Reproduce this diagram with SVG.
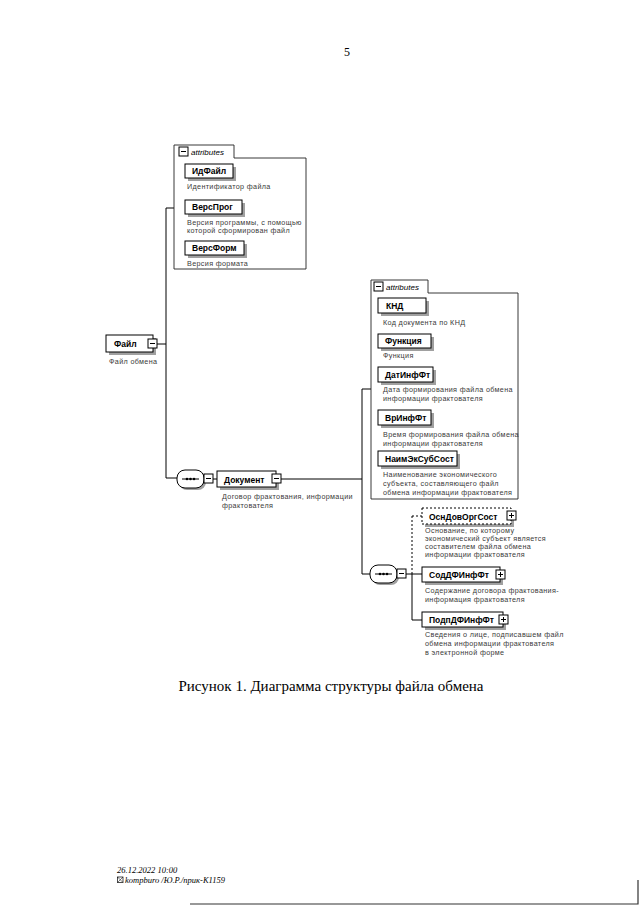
<svg xmlns="http://www.w3.org/2000/svg" width="640" height="905" viewBox="0 0 640 905">
<style>
.bg{fill:#fff}
.box{fill:#fff;stroke:#000;stroke-width:1}
.opt{fill:#fff;stroke:#000;stroke-width:1;stroke-dasharray:2 2}
.sh{fill:#a0a0a0}
.grp{fill:none;stroke:#222;stroke-width:0.9}
.lbl{font-family:"Liberation Sans",Arial,sans-serif;font-size:8.5px;font-weight:bold;fill:#000}
.desc{font-family:"Liberation Sans",Arial,sans-serif;font-size:7.2px;letter-spacing:0.35px;fill:#3a3a3a}
.att{font-family:"Liberation Sans",Arial,sans-serif;font-size:8px;font-style:italic;fill:#000}
.conn{fill:none;stroke:#000;stroke-width:1}
.dconn{fill:none;stroke:#000;stroke-width:1;stroke-dasharray:2 2}
.ico{fill:#fff;stroke:#000;stroke-width:1}
.serif{font-family:"Liberation Serif","Times New Roman",serif;fill:#000}
</style>
<defs>
<g id="minus"><rect class="ico" x="0" y="0" width="9" height="9"/><path d="M2,4.5H7" stroke="#000" stroke-width="1"/></g>
<g id="plus"><rect class="ico" x="0" y="0" width="9" height="9"/><path d="M2,4.5H7M4.5,2V7" stroke="#000" stroke-width="1"/></g>
</defs>
<rect class="bg" x="0" y="0" width="640" height="905"/>

<text class="serif" x="347" y="56" font-size="12" text-anchor="middle">5</text>

<g id="connectors">
<path class="conn" d="M157,344H166M166,208V478M166,208H174M166,478H177"/>
<path class="conn" d="M212,479H217"/>
<path class="conn" d="M281,479H362M362,389V574M362,389H371M362,574H370"/>
<path class="conn" d="M405,574H412M412,574V620M412,574H422M412,620H422"/>
<path class="dconn" d="M412,516V574M412,516H422"/>
</g>

<g id="node-file">
<rect class="sh" x="109" y="338" width="47" height="17"/>
<rect class="box" x="106" y="335" width="47" height="17"/>
<text class="lbl" x="114" y="347">Файл</text>
<use href="#minus" x="148" y="339"/>
<text class="desc" x="109" y="364">Файл обмена</text>
</g>

<g id="attrs-file">
<path class="grp" d="M174,269V145H234V158H306V269Z"/>
<use href="#minus" x="179" y="147"/>
<text class="att" x="191" y="155">attributes</text>
</g>

<g id="node-IdFile">
<rect class="sh" x="188" y="167" width="48" height="14"/>
<rect class="box" x="185" y="164" width="48" height="14"/>
<text class="lbl" x="192" y="174">ИдФайл</text>
<text class="desc" x="187" y="189">Идентификатор файла</text>
</g>

<g id="node-VersProg">
<rect class="sh" x="188" y="203" width="57" height="14"/>
<rect class="box" x="185" y="200" width="57" height="14"/>
<text class="lbl" x="192" y="210">ВерсПрог</text>
<text class="desc" x="187" y="225">Версия программы, с помощью</text>
<text class="desc" x="187" y="233">которой сформирован файл</text>
</g>

<g id="node-VersForm">
<rect class="sh" x="188" y="244" width="59" height="14"/>
<rect class="box" x="185" y="241" width="59" height="14"/>
<text class="lbl" x="192" y="251">ВерсФорм</text>
<text class="desc" x="187" y="266">Версия формата</text>
</g>

<g id="seq-1">
<rect class="sh" x="179" y="472" width="27" height="18" rx="8"/>
<rect class="box" x="177" y="470" width="27" height="18" rx="8"/>
<path d="M182,479H199" stroke="#000" stroke-width="1"/>
<circle cx="187" cy="479" r="1.3"/><circle cx="190.5" cy="479" r="1.3"/><circle cx="194" cy="479" r="1.3"/>
<use href="#minus" x="204" y="474"/>
</g>

<g id="node-Document">
<rect class="sh" x="220" y="474" width="59" height="16"/>
<rect class="box" x="217" y="471" width="59" height="16"/>
<text class="lbl" x="224" y="483">Документ</text>
<use href="#minus" x="272" y="474"/>
<text class="desc" x="222" y="499">Договор фрактования, информации</text>
<text class="desc" x="222" y="508">фрактователя</text>
</g>

<g id="attrs-doc">
<path class="grp" d="M371,499V280H428V293H518V499Z"/>
<use href="#minus" x="374" y="282"/>
<text class="att" x="386" y="290">attributes</text>
</g>

<g id="node-KND">
<rect class="sh" x="381" y="301" width="48" height="15"/>
<rect class="box" x="378" y="298" width="48" height="15"/>
<text class="lbl" x="386" y="309">КНД</text>
<text class="desc" x="383" y="325">Код документа по КНД</text>
</g>

<g id="node-Funkcia">
<rect class="sh" x="381" y="337" width="53" height="14"/>
<rect class="box" x="378" y="334" width="53" height="14"/>
<text class="lbl" x="385" y="344">Функция</text>
<text class="desc" x="383" y="358">Функция</text>
</g>

<g id="node-DatInfFt">
<rect class="sh" x="381" y="370" width="55" height="15"/>
<rect class="box" x="378" y="367" width="55" height="15"/>
<text class="lbl" x="385" y="378">ДатИнфФт</text>
<text class="desc" x="383" y="392">Дата формирования файла обмена</text>
<text class="desc" x="383" y="401">информации фрактователя</text>
</g>

<g id="node-VrInfFt">
<rect class="sh" x="381" y="413" width="53" height="15"/>
<rect class="box" x="378" y="410" width="53" height="15"/>
<text class="lbl" x="385" y="421">ВрИнфФт</text>
<text class="desc" x="383" y="437">Время формирования файла обмена</text>
<text class="desc" x="383" y="446">информации фрактователя</text>
</g>

<g id="node-NaimEkSubSost">
<rect class="sh" x="381" y="454" width="79" height="15"/>
<rect class="box" x="378" y="451" width="79" height="15"/>
<text class="lbl" x="385" y="462">НаимЭкСубСост</text>
<text class="desc" x="383" y="477">Наименование экономического</text>
<text class="desc" x="383" y="486">субъекта, составляющего файл</text>
<text class="desc" x="383" y="495">обмена информации фрактователя</text>
</g>

<g id="seq-2">
<rect class="sh" x="372" y="567" width="27" height="18" rx="8"/>
<rect class="box" x="370" y="565" width="27" height="18" rx="8"/>
<path d="M375,574H392" stroke="#000" stroke-width="1"/>
<circle cx="380" cy="574" r="1.3"/><circle cx="383.5" cy="574" r="1.3"/><circle cx="387" cy="574" r="1.3"/>
<use href="#minus" x="397" y="569"/>
</g>

<g id="node-OsnDovOrgSost">
<rect class="sh" x="425" y="511" width="89" height="16"/>
<rect class="opt" x="422" y="508" width="89" height="16"/>
<text class="lbl" x="429" y="520">ОснДовОргСост</text>
<use href="#plus" x="507" y="511"/>
<text class="desc" x="425" y="533">Основание, по которому</text>
<text class="desc" x="425" y="541">экономический субъект является</text>
<text class="desc" x="425" y="549">составителем файла обмена</text>
<text class="desc" x="425" y="557">информации фрактователя</text>
</g>

<g id="node-SodDFInfFt">
<rect class="sh" x="425" y="570" width="78" height="15"/>
<rect class="box" x="422" y="567" width="78" height="15"/>
<text class="lbl" x="429" y="578">СодДФИнфФт</text>
<use href="#plus" x="496" y="570"/>
<text class="desc" x="425" y="593">Содержание договора фрактования-</text>
<text class="desc" x="425" y="602">информация фрактователя</text>
</g>

<g id="node-PodpDFInfFt">
<rect class="sh" x="425" y="615" width="81" height="15"/>
<rect class="box" x="422" y="612" width="81" height="15"/>
<text class="lbl" x="429" y="623">ПодпДФИнфФт</text>
<use href="#plus" x="499" y="615"/>
<text class="desc" x="425" y="637">Сведения о лице, подписавшем файл</text>
<text class="desc" x="425" y="646">обмена информации фрактователя</text>
<text class="desc" x="425" y="655">в электронной форме</text>
</g>

<text class="serif" x="331" y="691" font-size="15" text-anchor="middle">Рисунок 1. Диаграмма структуры файла обмена</text>

<text class="serif" x="117" y="873" font-size="8.5" font-style="italic">26.12.2022 10:00</text>
<rect x="117.5" y="877" width="5.5" height="5.5" fill="none" stroke="#000" stroke-width="0.7"/>
<path d="M117.5,877L123,882.5M123,877L117.5,882.5" stroke="#000" stroke-width="0.5"/>
<text class="serif" x="125" y="883" font-size="8.5" font-style="italic">kompburo /Ю.Р./прик-К1159</text>

<path d="M190,904H638V880" fill="none" stroke="#333" stroke-width="1.2"/>
</svg>
